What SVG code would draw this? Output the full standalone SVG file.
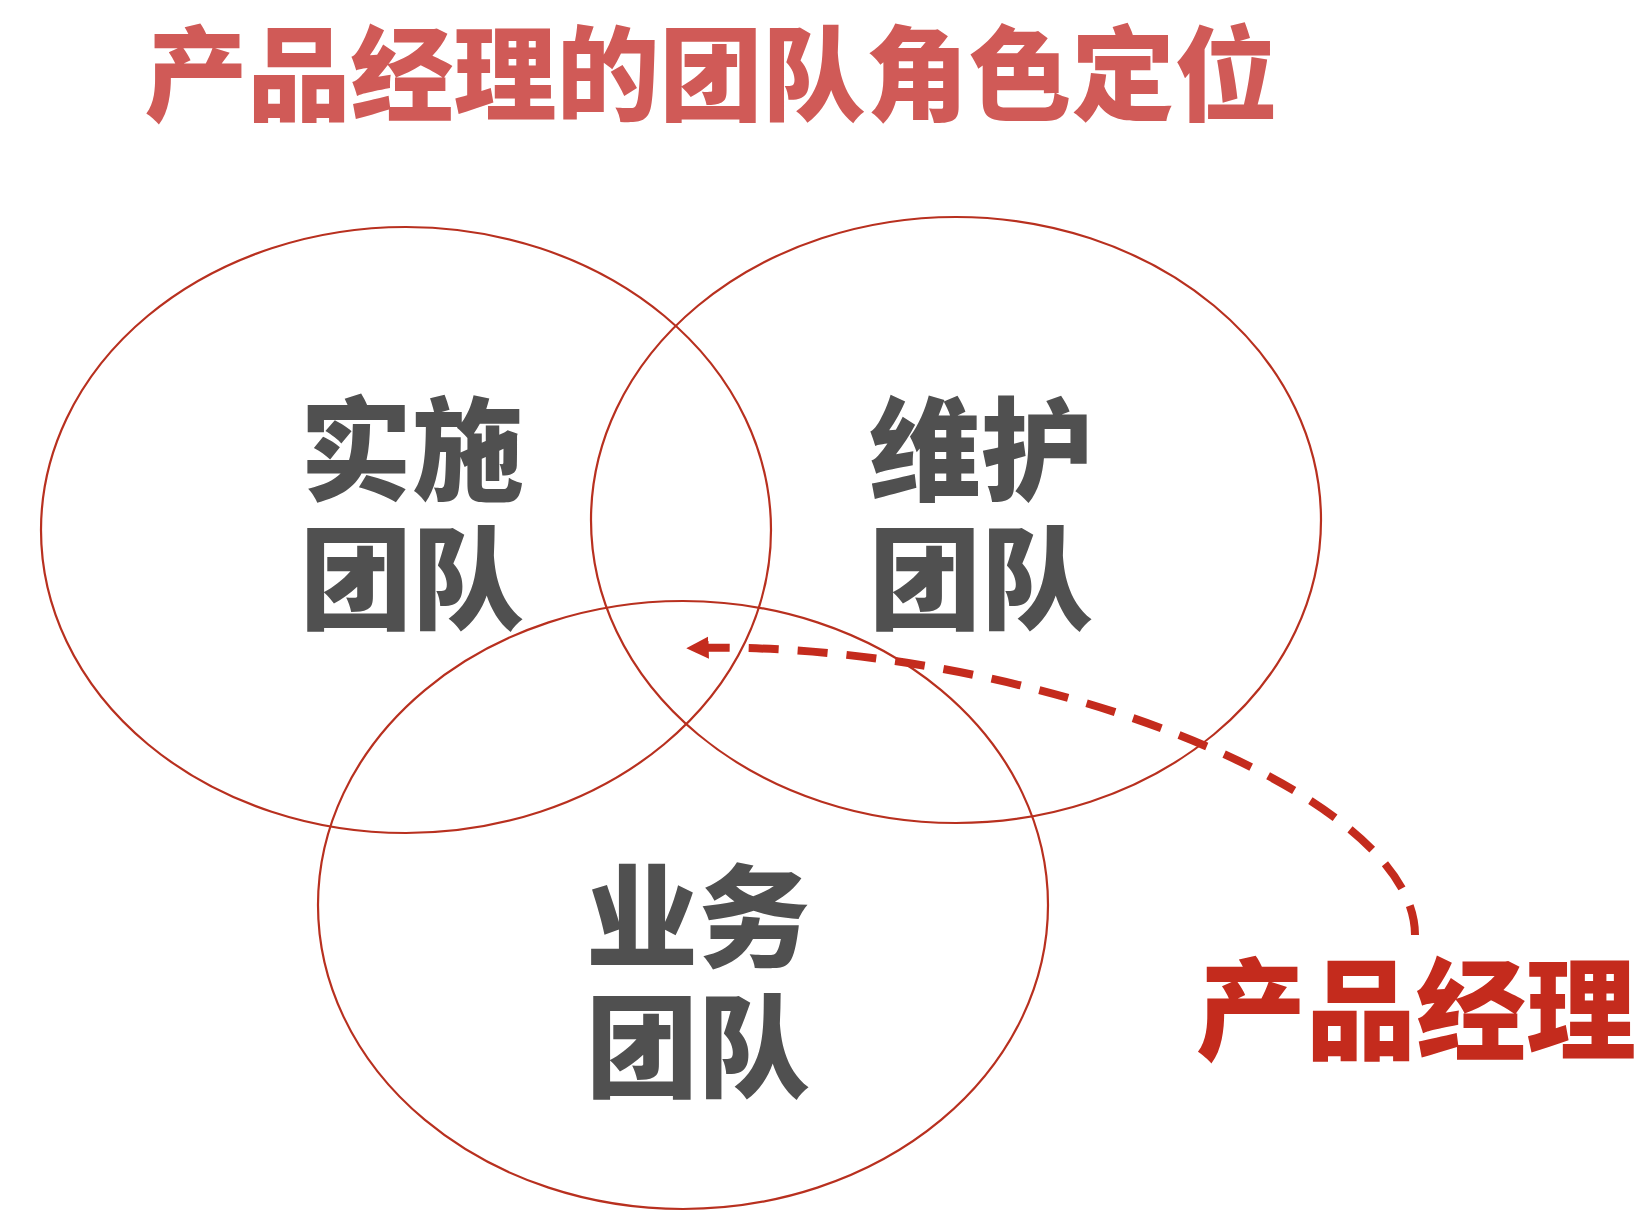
<svg xmlns="http://www.w3.org/2000/svg" width="1634" height="1214" viewBox="0 0 1634 1214">
<style>
.ring{fill:none;stroke:#b8301f;stroke-width:2.2}
.lbl{font-family:"Noto Sans CJK SC","Noto Sans",sans-serif;font-weight:900;fill:#505050;font-size:112px;text-anchor:middle}
.title{font-family:"Noto Sans CJK SC","Noto Sans",sans-serif;font-weight:900;fill:#d05a57;font-size:103px;text-anchor:middle}
.pm{font-family:"Noto Sans CJK SC","Noto Sans",sans-serif;font-weight:900;fill:#c42b1d;font-size:110px}
</style>
<defs>
<marker id="ah" viewBox="0 0 10 10" refX="7" refY="5" markerWidth="2.8" markerHeight="3" orient="auto">
<path d="M0,0 L10,5 L0,10 z" fill="#c42b1d"/>
</marker>
</defs>
<rect width="1634" height="1214" fill="#ffffff"/>
<text class="title" x="711" y="113">产品经理的团队角色定位</text>
<g id="impl">
<ellipse class="ring" cx="406" cy="530" rx="365" ry="303"/>
<text class="lbl" x="412" y="492">实施</text>
<text class="lbl" x="412" y="621">团队</text>
</g>
<g id="maint">
<ellipse class="ring" cx="956" cy="520" rx="365" ry="303"/>
<text class="lbl" x="981" y="492">维护</text>
<text class="lbl" x="981" y="621">团队</text>
</g>
<g id="biz">
<ellipse class="ring" cx="683" cy="905" rx="365" ry="304"/>
<text class="lbl" x="698" y="959">业务</text>
<text class="lbl" x="698" y="1089">团队</text>
</g>
<g id="pm">
<text class="pm" x="1196" y="1051">产品经理</text>
</g>
<g id="connectors">
<path d="M1415,935 C1415,790 1020,640 693,648" fill="none" stroke="#c42b1d" stroke-width="8" stroke-dasharray="30 19" marker-end="url(#ah)"/>
</g>
</svg>
